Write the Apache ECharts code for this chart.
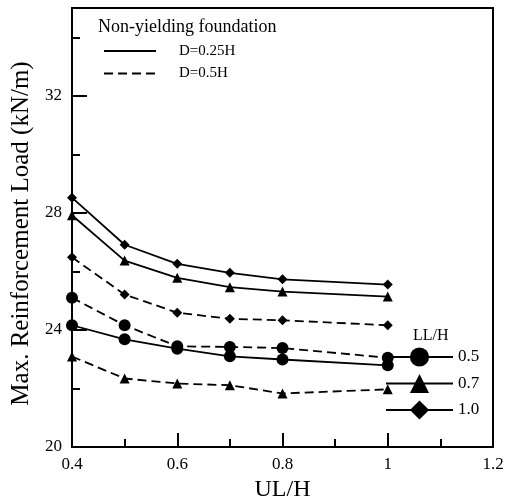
<!DOCTYPE html>
<html>
<head>
<meta charset="utf-8">
<script src="https://cdn.jsdelivr.net/npm/echarts@6/dist/echarts.min.js"></script>
<style>html,body{margin:0;padding:0;background:#fff}#c{width:507px;height:500px}</style>
</head>
<body>
<div id="c"></div>
<script>
// ---- data ----
var ulH = [0.4, 0.5, 0.6, 0.7, 0.8, 1.0];
var d025_ll05 = [24.16, 23.68, 23.36, 23.10, 22.99, 22.79];
var d025_ll07 = [27.92, 26.37, 25.78, 25.46, 25.31, 25.14];
var d025_ll10 = [28.52, 26.91, 26.26, 25.95, 25.73, 25.55];
var d05_ll05 = [25.10, 24.16, 23.44, 23.42, 23.38, 23.05];
var d05_ll07 = [23.09, 22.34, 22.17, 22.11, 21.83, 21.97];
var d05_ll10 = [26.48, 25.21, 24.59, 24.38, 24.33, 24.16];
var depthNames = ['D=0.25H', 'D=0.5H'];
var llNames = ['0.5', '0.7', '1.0'];
var xTicks = [0.4, 0.6, 0.8, 1, 1.2];
var yTicks = [20, 24, 28, 32];

var FONT = 'Liberation Serif';
var DASH = [9, 5];
function pairs(ys) { return ulH.map(function (x, i) { return [x, ys[i]]; }); }
function dataSeries(name, ys, symbol, size, dashed) {
  return {
    name: name, type: 'line', data: pairs(ys), xAxisIndex: 0, yAxisIndex: 0,
    symbol: symbol, symbolSize: size, showSymbol: true,
    lineStyle: { color: '#000', width: 1.8, type: dashed ? DASH : 'solid' },
    itemStyle: { color: '#000' }, emphasis: { disabled: true }, animation: false, z: 3
  };
}
function legendSeries(name, symbol, dashed) {
  return {
    name: name, type: 'line', data: [], symbol: symbol,
    lineStyle: { color: '#000', width: 2, type: dashed ? DASH : 'solid' },
    itemStyle: { color: '#000' }, animation: false
  };
}

var chart = echarts.init(document.getElementById('c'), null, { renderer: 'canvas' });
var option = {
  backgroundColor: '#fff',
  animation: false,
  textStyle: { fontFamily: FONT, color: '#000' },
  title: [
    { text: 'Non-yielding foundation', left: 98, top: 18, padding: 0,
      textStyle: { fontFamily: FONT, fontSize: 18, fontWeight: 'normal', color: '#000' } },
    { text: 'LL/H', left: 413, top: 328, padding: 0,
      textStyle: { fontFamily: FONT, fontSize: 16, fontWeight: 'normal', color: '#000' } }
  ],
  legend: [
    {
      data: [
        { name: depthNames[0], lineStyle: { color: '#000', width: 2, type: 'solid' } },
        { name: depthNames[1], lineStyle: { color: '#000', width: 2, type: DASH } }
      ],
      orient: 'vertical', left: 103, top: 43.5, padding: 0,
      itemWidth: 52, itemHeight: 14, itemGap: 7.5, selectedMode: false,
      itemStyle: { color: 'rgba(0,0,0,0)', borderColor: 'rgba(0,0,0,0)', borderWidth: 0, opacity: 0 },
      textStyle: { fontFamily: FONT, fontSize: 15, color: '#000', lineHeight: 14, padding: [0, 0, 0, 18] }
    },
    {
      data: llNames,
      orient: 'vertical', left: 385, top: 345, padding: 0,
      itemWidth: 67, itemHeight: 24, itemGap: 2.5, selectedMode: false,
      textStyle: { fontFamily: FONT, fontSize: 17, color: '#000', lineHeight: 24 }
    }
  ],
  grid: { left: 72, right: 14, top: 8, bottom: 53, show: true, borderColor: '#000', borderWidth: 2,
          backgroundColor: 'transparent', containLabel: false, outerBoundsMode: 'none' },
  xAxis: [
    {
      type: 'value', min: 0.4, max: 1.2, interval: 0.2, position: 'bottom',
      name: 'UL/H', nameLocation: 'middle', nameGap: 24,
      nameTextStyle: { fontFamily: FONT, fontSize: 24, color: '#000' },
      axisLine: { show: true, onZero: false, lineStyle: { color: '#000', width: 2 } },
      axisTick: { show: true, inside: true, length: 14, lineStyle: { color: '#000', width: 2 } },
      axisLabel: { fontFamily: FONT, fontSize: 17, color: '#000', margin: 9,
        formatter: function (v) { var r = Math.round(v * 10) / 10; return xTicks.indexOf(r) >= 0 ? String(r) : ''; } },
      splitLine: { show: false }
    },
    {
      type: 'value', min: 0.4, max: 1.2, interval: 0.1, position: 'bottom',
      axisLine: { show: false, onZero: false },
      axisTick: { show: true, inside: true, length: 8, lineStyle: { color: '#000', width: 2 } },
      axisLabel: { show: false }, splitLine: { show: false }
    }
  ],
  yAxis: [
    {
      type: 'value', min: 20, max: 35, interval: 4, position: 'left',
      name: 'Max. Reinforcement Load (kN/m)', nameLocation: 'middle', nameGap: 37,
      nameTextStyle: { fontFamily: FONT, fontSize: 25, color: '#000', padding: [0, 12, 0, 0] },
      axisLine: { show: true, onZero: false, lineStyle: { color: '#000', width: 2 } },
      axisTick: { show: true, inside: true, length: 15, lineStyle: { color: '#000', width: 2 } },
      axisLabel: { fontFamily: FONT, fontSize: 17, color: '#000', margin: 10, showMaxLabel: false,
        formatter: function (v) { return yTicks.indexOf(v) >= 0 ? String(v) : ''; } },
      splitLine: { show: false }
    },
    {
      type: 'value', min: 20, max: 35, interval: 2, position: 'left',
      axisLine: { show: false, onZero: false },
      axisTick: { show: true, inside: true, length: 8, lineStyle: { color: '#000', width: 2 } },
      axisLabel: { show: false }, splitLine: { show: false }
    }
  ],
  series: [
    dataSeries('D=0.25H LL/H=0.5', d025_ll05, 'circle', 12, false),
    dataSeries('D=0.25H LL/H=0.7', d025_ll07, 'triangle', 10, false),
    dataSeries('D=0.25H LL/H=1.0', d025_ll10, 'diamond', 10, false),
    dataSeries('D=0.5H LL/H=0.5', d05_ll05, 'circle', 12, true),
    dataSeries('D=0.5H LL/H=0.7', d05_ll07, 'triangle', 10, true),
    dataSeries('D=0.5H LL/H=1.0', d05_ll10, 'diamond', 10, true),
    legendSeries(depthNames[0], 'none', false),
    legendSeries(depthNames[1], 'none', true),
    legendSeries(llNames[0], 'circle', false),
    legendSeries(llNames[1], 'triangle', false),
    legendSeries(llNames[2], 'diamond', false)
  ]
};
chart.setOption(option);
</script>
</body>
</html>
